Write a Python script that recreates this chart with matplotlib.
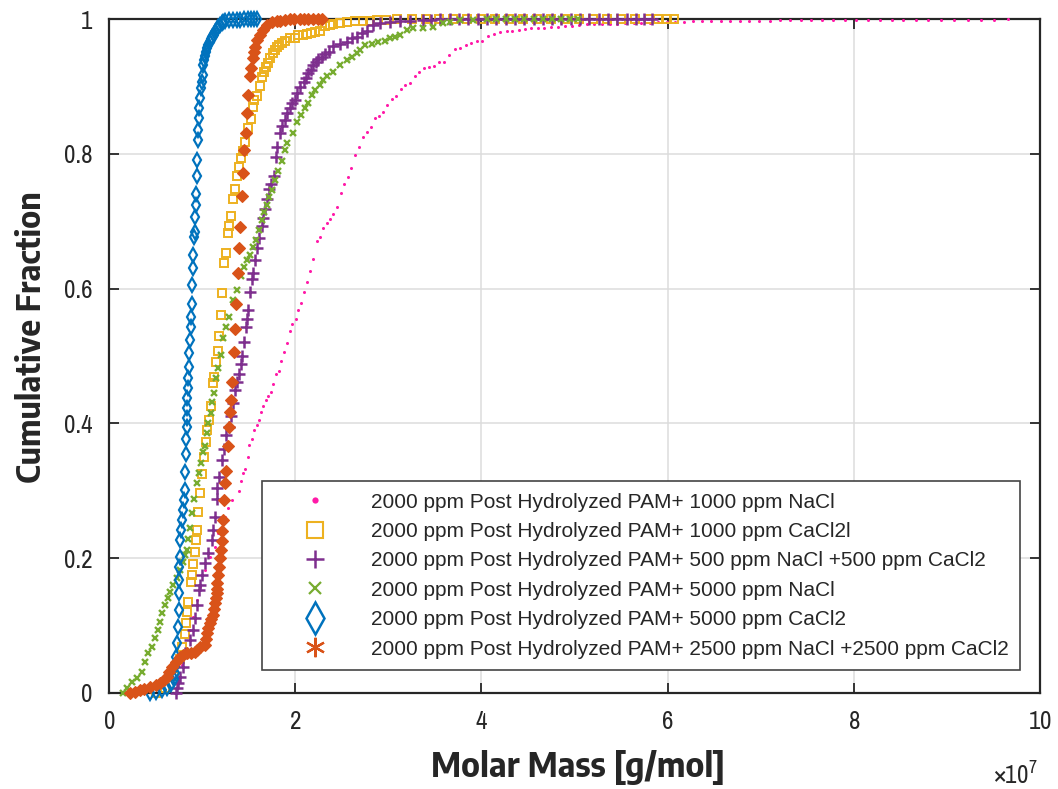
import matplotlib
matplotlib.use("Agg")
import matplotlib.pyplot as plt
from matplotlib.lines import Line2D
from matplotlib.ticker import ScalarFormatter, FuncFormatter

# ---------------- data (molar mass in units of 1e7 g/mol, cumulative fraction) -------------
nacl1000_x = [0.709, 0.741, 0.784, 0.827, 0.870, 0.902, 0.945, 0.977, 1.031, 1.085,
              1.139, 1.171, 1.214, 1.246, 1.278, 1.321, 1.396, 1.418, 1.439, 1.461,
              1.493, 1.504, 1.536, 1.557, 1.590, 1.611, 1.633, 1.654, 1.686, 1.708,
              1.740, 1.762, 1.794, 1.826, 1.847, 1.880, 1.912, 1.944, 1.966, 2.009,
              2.030, 2.062, 2.095, 2.127, 2.159, 2.191, 2.234, 2.266, 2.299, 2.342,
              2.374, 2.406, 2.449, 2.492, 2.524, 2.567, 2.599, 2.642, 2.685, 2.728,
              2.771, 2.814, 2.857, 2.900, 2.943, 2.986, 3.040, 3.083, 3.136, 3.179,
              3.233, 3.287, 3.330, 3.383, 3.437, 3.491, 3.545, 3.598, 3.652, 3.716,
              3.770, 3.835, 3.888, 3.953, 4.006, 4.071, 4.135, 4.200, 4.275, 4.329,
              4.404, 4.468, 4.533, 4.608, 4.672, 4.748, 4.823, 4.898, 4.973, 5.048,
              5.134, 5.209, 5.295, 5.381, 5.456, 5.542, 5.639, 5.714, 5.811, 5.897,
              5.994, 6.080, 6.176, 6.273, 6.370, 6.466, 6.574, 6.670, 6.778, 6.874,
              6.982, 7.100, 7.207, 7.315, 7.433, 7.540, 7.658, 7.777, 7.905, 8.024,
              8.153, 8.281, 8.410, 8.528, 8.668, 8.797, 8.937, 9.076, 9.227, 9.366,
              9.506, 9.656]
nacl1000_y = [0.000, 0.019, 0.042, 0.067, 0.093, 0.113, 0.138, 0.157, 0.182, 0.202,
              0.217, 0.237, 0.252, 0.261, 0.274, 0.286, 0.300, 0.315, 0.326, 0.332,
              0.350, 0.368, 0.377, 0.390, 0.398, 0.405, 0.417, 0.426, 0.435, 0.441,
              0.447, 0.458, 0.473, 0.478, 0.493, 0.506, 0.519, 0.537, 0.547, 0.555,
              0.568, 0.579, 0.595, 0.610, 0.626, 0.644, 0.671, 0.677, 0.690, 0.697,
              0.703, 0.711, 0.721, 0.742, 0.755, 0.766, 0.779, 0.798, 0.810, 0.825,
              0.832, 0.840, 0.853, 0.856, 0.862, 0.872, 0.881, 0.886, 0.896, 0.902,
              0.905, 0.915, 0.921, 0.927, 0.929, 0.930, 0.936, 0.936, 0.947, 0.955,
              0.957, 0.961, 0.964, 0.967, 0.967, 0.975, 0.978, 0.981, 0.982, 0.982,
              0.984, 0.985, 0.987, 0.987, 0.987, 0.988, 0.988, 0.990, 0.990, 0.991,
              0.993, 0.993, 0.993, 0.993, 0.993, 0.994, 0.994, 0.994, 0.994, 0.996,
              0.996, 0.996, 0.996, 0.997, 0.997, 0.997, 0.997, 0.997, 0.997, 0.997,
              0.997, 0.997, 0.9985, 0.9985, 0.9985, 0.9985, 0.9985, 0.9985, 0.9985, 0.9985,
              0.9993, 0.9993, 0.9993, 0.9993, 0.9993, 0.9993, 0.9993, 0.9993, 0.9993, 0.9993,
              0.9993, 1.000]

cacl1000_x = [0.50, 0.60, 0.70, 0.76, 0.78, 0.82, 0.83, 0.84, 0.85, 0.88,
              0.89, 0.90, 0.92, 0.93, 0.95, 0.96, 0.98, 1.00, 1.02, 1.04,
              1.05, 1.07, 1.10, 1.12, 1.13, 1.15, 1.17, 1.18, 1.20, 1.21,
              1.24, 1.26, 1.28, 1.29, 1.31, 1.33, 1.35, 1.37, 1.40, 1.42,
              1.44, 1.46, 1.49, 1.53, 1.55, 1.56, 1.59, 1.62, 1.64, 1.66,
              1.69, 1.71, 1.73, 1.76, 1.78, 1.80, 1.83, 1.86, 1.89, 1.94,
              2.00, 2.03, 2.08, 2.13, 2.17, 2.21, 2.27, 2.32, 2.37, 2.41,
              2.48, 2.56, 2.64, 2.73, 2.80, 2.88, 2.98, 3.09, 3.25, 3.40,
              3.55, 3.70, 3.85, 4.00, 4.15, 4.30, 4.45, 4.60, 4.75, 4.90,
              5.05, 5.20, 5.35, 5.50, 5.65, 5.80, 5.90, 5.99, 6.07]
cacl1000_y = [0.000, 0.008, 0.025, 0.050, 0.068, 0.088, 0.104, 0.120, 0.135, 0.165,
              0.175, 0.191, 0.209, 0.227, 0.242, 0.269, 0.297, 0.325, 0.350, 0.372,
              0.390, 0.405, 0.426, 0.460, 0.469, 0.491, 0.507, 0.530, 0.561, 0.593,
              0.638, 0.653, 0.682, 0.693, 0.708, 0.733, 0.748, 0.767, 0.780, 0.794,
              0.804, 0.818, 0.838, 0.852, 0.869, 0.880, 0.886, 0.901, 0.914, 0.921,
              0.929, 0.935, 0.942, 0.950, 0.954, 0.958, 0.961, 0.964, 0.967, 0.972,
              0.972, 0.976, 0.977, 0.978, 0.980, 0.981, 0.982, 0.990, 0.991, 0.993,
              0.995, 0.996, 0.997, 0.998, 0.998, 0.999, 0.999, 1.000, 1.000, 1.000,
              1.000, 1.000, 1.000, 1.000, 1.000, 1.000, 1.000, 1.000, 1.000, 1.000,
              1.000, 1.000, 1.000, 1.000, 1.000, 1.000, 1.000, 1.000, 1.000]

mix500_x = [0.72, 0.73, 0.745, 0.76, 0.79, 0.82, 0.87, 0.90, 0.92, 0.95,
            0.97, 0.98, 1.00, 1.03, 1.06, 1.11, 1.12, 1.14, 1.16, 1.16,
            1.18, 1.21, 1.24, 1.26, 1.29, 1.31, 1.33, 1.35, 1.37, 1.40,
            1.42, 1.43, 1.45, 1.47, 1.48, 1.49, 1.51, 1.54, 1.55, 1.57,
            1.59, 1.61, 1.64, 1.65, 1.68, 1.70, 1.72, 1.74, 1.77, 1.79,
            1.80, 1.84, 1.86, 1.89, 1.91, 1.94, 1.97, 2.00, 2.02, 2.05,
            2.09, 2.12, 2.14, 2.17, 2.19, 2.22, 2.24, 2.29, 2.32, 2.36,
            2.41, 2.48, 2.56, 2.61, 2.66, 2.72, 2.77, 2.84, 2.91, 3.02,
            3.13, 3.23, 3.37, 3.46, 3.56, 3.66, 3.76, 3.86, 3.96, 4.06,
            4.16, 4.26, 4.36, 4.46, 4.56, 4.66, 4.76, 4.86, 4.96, 5.06,
            5.16, 5.26, 5.36, 5.46, 5.56, 5.66, 5.75, 5.83]
mix500_y = [0.000, 0.007, 0.015, 0.024, 0.039, 0.059, 0.079, 0.093, 0.111, 0.131,
            0.153, 0.160, 0.175, 0.193, 0.208, 0.227, 0.242, 0.261, 0.288, 0.304,
            0.320, 0.346, 0.362, 0.383, 0.395, 0.411, 0.430, 0.450, 0.461, 0.473,
            0.488, 0.500, 0.521, 0.543, 0.555, 0.568, 0.595, 0.614, 0.623, 0.642,
            0.660, 0.675, 0.693, 0.705, 0.718, 0.733, 0.748, 0.755, 0.767, 0.795,
            0.810, 0.831, 0.841, 0.850, 0.861, 0.868, 0.875, 0.880, 0.890, 0.899,
            0.907, 0.912, 0.920, 0.924, 0.932, 0.936, 0.941, 0.944, 0.948, 0.951,
            0.960, 0.963, 0.966, 0.972, 0.973, 0.979, 0.982, 0.991, 0.994, 0.996,
            0.997, 0.998, 0.999, 0.999, 1.000, 1.000, 1.000, 1.000, 1.000, 1.000,
            1.000, 1.000, 1.000, 1.000, 1.000, 1.000, 1.000, 1.000, 1.000, 1.000,
            1.000, 1.000, 1.000, 1.000, 1.000, 1.000, 1.000, 1.000]

nacl5000_x = [0.15, 0.19, 0.25, 0.30, 0.35, 0.39, 0.42, 0.46, 0.49, 0.53,
              0.55, 0.57, 0.60, 0.63, 0.66, 0.69, 0.73, 0.76, 0.79, 0.82,
              0.84, 0.85, 0.87, 0.89, 0.91, 0.95, 0.97, 0.99, 1.01, 1.03,
              1.05, 1.06, 1.10, 1.11, 1.13, 1.15, 1.17, 1.20, 1.22, 1.26,
              1.29, 1.33, 1.37, 1.42, 1.45, 1.48, 1.51, 1.55, 1.58, 1.61,
              1.64, 1.66, 1.70, 1.72, 1.75, 1.78, 1.82, 1.86, 1.89, 1.91,
              1.98, 2.02, 2.06, 2.11, 2.14, 2.18, 2.21, 2.27, 2.30, 2.34,
              2.41, 2.48, 2.56, 2.61, 2.66, 2.70, 2.75, 2.82, 2.89, 2.96,
              3.02, 3.07, 3.13, 3.20, 3.27, 3.37, 3.48, 3.59, 3.66, 3.77,
              3.91, 4.06, 4.16, 4.26, 4.36, 4.46, 4.56, 4.66, 4.76, 4.86,
              4.95, 5.04]
nacl5000_y = [0.000, 0.007, 0.016, 0.022, 0.031, 0.046, 0.059, 0.068, 0.082, 0.093,
              0.105, 0.119, 0.131, 0.141, 0.150, 0.160, 0.171, 0.182, 0.194, 0.205,
              0.212, 0.228, 0.245, 0.267, 0.288, 0.312, 0.326, 0.341, 0.358, 0.366,
              0.386, 0.401, 0.415, 0.432, 0.445, 0.467, 0.482, 0.501, 0.527, 0.543,
              0.558, 0.583, 0.598, 0.619, 0.632, 0.642, 0.650, 0.662, 0.672, 0.687,
              0.702, 0.714, 0.724, 0.736, 0.746, 0.761, 0.774, 0.789, 0.806, 0.816,
              0.831, 0.847, 0.858, 0.868, 0.875, 0.887, 0.895, 0.902, 0.910, 0.915,
              0.921, 0.932, 0.939, 0.944, 0.950, 0.954, 0.961, 0.963, 0.966, 0.967,
              0.972, 0.973, 0.976, 0.984, 0.987, 0.987, 0.988, 0.994, 0.996, 0.999,
              0.999, 1.000, 1.000, 1.000, 1.000, 1.000, 1.000, 1.000, 1.000, 1.000,
              1.000, 1.000]

cacl5000_x = [0.44, 0.50, 0.57, 0.62, 0.67, 0.70, 0.71, 0.71, 0.72, 0.73,
              0.74, 0.75, 0.75, 0.75, 0.75, 0.76, 0.76, 0.77, 0.78, 0.79,
              0.81, 0.82, 0.82, 0.83, 0.83, 0.84, 0.84, 0.84, 0.84, 0.85,
              0.85, 0.86, 0.86, 0.87, 0.88, 0.88, 0.89, 0.89, 0.90, 0.90,
              0.91, 0.92, 0.92, 0.93, 0.93, 0.95, 0.95, 0.96, 0.96, 0.97,
              0.97, 0.98, 0.99, 1.00, 1.01, 1.01, 1.02, 1.03, 1.04, 1.05,
              1.065, 1.08, 1.095, 1.11, 1.125, 1.14, 1.155, 1.17, 1.19, 1.21,
              1.23, 1.25, 1.29, 1.33, 1.37, 1.41, 1.45, 1.49, 1.53, 1.56,
              1.59]
cacl5000_y = [0.000, 0.002, 0.004, 0.008, 0.013, 0.021, 0.030, 0.040, 0.053, 0.074,
              0.098, 0.123, 0.148, 0.168, 0.187, 0.202, 0.227, 0.242, 0.257, 0.272,
              0.286, 0.301, 0.328, 0.355, 0.377, 0.395, 0.408, 0.423, 0.438, 0.453,
              0.467, 0.484, 0.504, 0.524, 0.543, 0.558, 0.577, 0.605, 0.631, 0.650,
              0.677, 0.684, 0.706, 0.724, 0.740, 0.767, 0.791, 0.820, 0.835, 0.853,
              0.868, 0.883, 0.898, 0.907, 0.917, 0.932, 0.939, 0.945, 0.951, 0.957,
              0.962, 0.966, 0.970, 0.973, 0.977, 0.981, 0.985, 0.988, 0.991, 0.994,
              0.996, 0.998, 0.999, 0.999, 0.9995, 0.9995, 1.000, 1.000, 1.000, 1.000,
              1.000]

mix2500_x = [0.23, 0.28, 0.33, 0.38, 0.44, 0.50, 0.55, 0.59, 0.62, 0.65,
             0.68, 0.72, 0.76, 0.80, 0.84, 0.88, 0.92, 0.95, 0.98, 1.03,
             1.04, 1.05, 1.065, 1.08, 1.10, 1.12, 1.13, 1.14, 1.15, 1.16,
             1.16, 1.16, 1.17, 1.18, 1.19, 1.20, 1.21, 1.21, 1.22, 1.24,
             1.25, 1.26, 1.28, 1.29, 1.30, 1.31, 1.32, 1.34, 1.35, 1.36,
             1.39, 1.40, 1.41, 1.43, 1.44, 1.45, 1.47, 1.48, 1.49, 1.51,
             1.53, 1.55, 1.56, 1.57, 1.59, 1.62, 1.65, 1.70, 1.75, 1.80,
             1.84, 1.89, 1.94, 1.99, 2.05, 2.10, 2.14, 2.19, 2.24, 2.29]
mix2500_y = [0.000, 0.002, 0.004, 0.006, 0.009, 0.012, 0.015, 0.019, 0.024, 0.031,
             0.039, 0.046, 0.053, 0.056, 0.059, 0.060, 0.061, 0.064, 0.068, 0.071,
             0.080, 0.089, 0.097, 0.104, 0.110, 0.116, 0.125, 0.134, 0.141, 0.148,
             0.155, 0.163, 0.175, 0.187, 0.200, 0.212, 0.226, 0.240, 0.257, 0.286,
             0.312, 0.329, 0.366, 0.395, 0.417, 0.435, 0.461, 0.506, 0.540, 0.577,
             0.623, 0.660, 0.691, 0.737, 0.772, 0.806, 0.831, 0.861, 0.887, 0.915,
             0.927, 0.942, 0.951, 0.958, 0.969, 0.976, 0.984, 0.991, 0.996, 0.997,
             0.998, 0.999, 1.000, 1.000, 1.000, 1.000, 1.000, 1.000, 1.000, 1.000]

labels = ["2000 ppm Post Hydrolyzed PAM+ 1000 ppm NaCl",
          "2000 ppm Post Hydrolyzed PAM+ 1000 ppm CaCl2l",
          "2000 ppm Post Hydrolyzed PAM+ 500 ppm NaCl +500 ppm CaCl2",
          "2000 ppm Post Hydrolyzed PAM+ 5000 ppm NaCl",
          "2000 ppm Post Hydrolyzed PAM+ 5000 ppm CaCl2",
          "2000 ppm Post Hydrolyzed PAM+ 2500 ppm NaCl +2500 ppm CaCl2"]
x_ticks = [0, 2, 4, 6, 8, 10]
y_ticks = [0, 0.2, 0.4, 0.6, 0.8, 1]
SCALE = 1e7

# ---------------- styling ----------------
TICK_FONT = ["Archivo Narrow", "DejaVu Sans"]
LABEL_FONT = ["Encode Sans Semi Condensed", "Encode Sans Condensed", "DejaVu Sans"]
LEG_FONT = ["Liberation Sans", "DejaVu Sans"]
plt.rcParams["font.family"] = TICK_FONT
plt.rcParams["mathtext.fontset"] = "custom"
plt.rcParams["mathtext.rm"] = "Archivo Narrow"

C_PINK = "#FF1AA8"
C_YEL = "#EDB120"
C_PUR = "#7E2F8E"
C_GRN = "#77AC30"
C_BLU = "#0072BD"
C_ORA = "#D95319"
DARK = "#262626"

fig = plt.figure(figsize=(10.58, 7.89), dpi=100)
ax = fig.add_axes([0.103, 0.1217, 0.880, 0.854])

def sc(v):
    return [a * SCALE for a in v]

kw = dict(linestyle="none", clip_on=False, zorder=3)
ax.plot(sc(nacl1000_x), nacl1000_y, marker="o", ms=2.2, mew=0, color=C_PINK, **kw)
ax.plot(sc(cacl1000_x), cacl1000_y, marker="s", ms=5.2, mew=1.4, mfc="none", color=C_YEL, **kw)
ax.plot(sc(mix500_x), mix500_y, marker="+", ms=8, mew=1.8, color=C_PUR, **kw)
ax.plot(sc(nacl5000_x), nacl5000_y, marker="x", ms=4.8, mew=1.7, color=C_GRN, **kw)
ax.plot(sc(cacl5000_x), cacl5000_y, marker="d", ms=7.4, mew=1.6, mfc="none", color=C_BLU, **kw)
ax.plot(sc(mix2500_x), mix2500_y, marker="D", ms=6.0, mew=0.8, color=C_ORA, **kw)

ax.set_xlim(0, 10 * SCALE)
ax.set_ylim(0, 1)
ax.set_xticks([t * SCALE for t in x_ticks])
ax.set_yticks(y_ticks)
fmt = ScalarFormatter(useMathText=True)
fmt.set_powerlimits((7, 7))
ax.xaxis.set_major_formatter(fmt)
ax.yaxis.set_major_formatter(FuncFormatter(lambda v, p: "%g" % v))

ax.grid(True, color="#DCDCDC", linewidth=1.1)
ax.set_axisbelow(True)
for s in ax.spines.values():
    s.set_color(DARK)
    s.set_linewidth(1.6)
    s.set_zorder(2.5)
ax.tick_params(direction="in", length=7.5, width=1.3, colors=DARK,
               top=True, right=True, labelsize=18)
ax.tick_params(axis="x", pad=12)
ax.tick_params(axis="y", pad=12)
ax.xaxis.get_offset_text().set_visible(False)
ax.text(0.997, -0.121, r"$\times10^{7}$", transform=ax.transAxes, ha="right", va="center",
        fontsize=18, color=DARK)

ax.set_xlabel("Molar Mass [g/mol]", fontsize=24.5, fontweight="bold", color=DARK,
              family=LABEL_FONT)
ax.set_ylabel("Cumulative Fraction", fontsize=23.5, fontweight="bold", color=DARK,
              family=LABEL_FONT)
ax.xaxis.set_label_coords(0.504, -0.085)
ax.yaxis.set_label_coords(-0.066, 0.528)

handles = [
    Line2D([], [], linestyle="none", marker="o", ms=4.5, mew=0, color=C_PINK),
    Line2D([], [], linestyle="none", marker="s", ms=11, mew=1.5, mfc="none", color=C_YEL),
    Line2D([], [], linestyle="none", marker="+", ms=13, mew=1.8, color=C_PUR),
    Line2D([], [], linestyle="none", marker="x", ms=9, mew=1.6, color=C_GRN),
    Line2D([], [], linestyle="none", marker="d", ms=16, mew=1.8, mfc="none", color=C_BLU),
    Line2D([], [], linestyle="none", marker=(6, 2, 0), ms=14, mew=1.6, color=C_ORA),
]
leg = ax.legend(handles, labels, loc="lower right", bbox_to_anchor=(0.979, 0.034),
                borderaxespad=0, prop={"family": LEG_FONT, "size": 15},
                frameon=True, fancybox=False, edgecolor="#444444", framealpha=1,
                handlelength=4.0, handletextpad=0.69, labelspacing=0.5, borderpad=0.55)
leg.get_frame().set_linewidth(1.2)
for t in leg.get_texts():
    t.set_color(DARK)

fig.savefig("out.png", dpi=100)
